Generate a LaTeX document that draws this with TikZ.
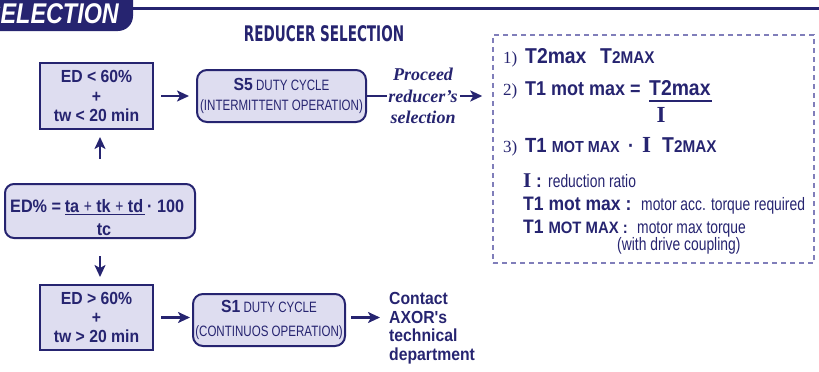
\documentclass[tikz,border=0pt]{standalone}
\usepackage{fontspec}
\usetikzlibrary{arrows.meta}
\newfontfamily\cbf{Liberation Sans}[FakeStretch=0.9]
\newfontfamily\crg{Liberation Sans}[FakeStretch=0.77]
\newfontfamily\chv{DejaVu Sans}[FakeStretch=0.63]
\newfontfamily\hdrf{Liberation Sans}[FakeStretch=0.82]
\newfontfamily\srf{Liberation Serif}
\newcommand\xB[2]{\cbf\bfseries\upshape\fontsize{#1}{#2}\selectfont}
\newcommand\xR[2]{\crg\mdseries\upshape\fontsize{#1}{#2}\selectfont}
\newcommand\xS[2]{\srf\mdseries\upshape\fontsize{#1}{#2}\selectfont}
\newcommand\xSB[2]{\srf\bfseries\upshape\fontsize{#1}{#2}\selectfont}
\definecolor{ink}{RGB}{38,36,112}
\definecolor{fillc}{RGB}{222,221,240}
\definecolor{dashc}{RGB}{128,126,186}
\tikzset{
  sharpbox/.style={draw=ink, fill=fillc, line width=2pt, minimum width=113pt, inner sep=0pt, align=center, text=ink},
  roundbox/.style={draw=ink, fill=fillc, line width=2pt, rounded corners=10pt, inner sep=0pt, align=center, text=ink},
  arr/.style={draw=ink, line width=2.2pt, -{Stealth[length=12pt,width=11pt,inset=3pt]}},
  txt/.style={inner sep=0pt, text=ink},
  bw/.style={txt, anchor=base west},
}
\begin{document}
\begin{tikzpicture}[x=1pt,y=-1pt]
\useasboundingbox (0,0) rectangle (819,372);
% header
\path[fill=ink, rounded corners=15pt] (-40,-40) -- (133,-40) -- (133,31) -- (-40,31) -- cycle;
\node[inner sep=0pt, anchor=base east, text=white, font=\hdrf\bfseries\itshape\fontsize{28.5}{28}\selectfont] (hdrt) at (119,23.5) {SELECTION};
\draw[ink, line width=2.5pt] (130,8.5) -- (819,8.5);
\node[txt, font=\chv\bfseries\fontsize{21.5}{22}\selectfont] (title) at (324,34) {REDUCER SELECTION};

% left flow
\node[sharpbox, minimum height=66pt, font=\xB{17.5}{19.5}] (c1) at (96.5,96) {ED < 60\%\\+\\tw < 20 min};
\node[roundbox, minimum width=169pt, minimum height=52pt, font=\xR{15}{20}] (s5) at (281.5,96) {{\xB{17.5}{20}S5} DUTY CYCLE\\(INTERMITTENT OPERATION)};
\node[txt, align=center, font=\srf\bfseries\itshape\fontsize{18}{21.5}\selectfont, inner xsep=1pt] (proc) at (423,96) {Proceed\\reducer’s\\selection};

\node[roundbox, rounded corners=9pt, minimum width=190pt, minimum height=54pt] (ed) at (100,211) {};
\node[bw, font=\xB{18}{20}] (edl) at (10,212) {ED\% =};
\node[txt, anchor=base, font=\xB{18}{20}] (num) at (104,212) {ta {\xR{18}{20}+} tk {\xR{18}{20}+} td};
\draw[ink, line width=1.3pt] (65,214.5) -- (145,214.5);
\node[txt, anchor=base, font=\xB{18}{20}] (den) at (104,235) {tc};
\node[bw, font=\xB{18}{20}] (hund) at (147,212) {· 100};

\node[sharpbox, minimum height=65pt, font=\xB{17.5}{19}] (c2) at (96.5,317.5) {ED > 60\%\\+\\tw > 20 min};
\node[roundbox, minimum width=152pt, minimum height=52pt, font=\xR{15}{24}] (s1) at (269,320) {{\xB{17.5}{24}S1} DUTY CYCLE\\(CONTINUOS OPERATION)};
\node[txt, anchor=north west, align=left, font=\xB{17.5}{18.7}] (ct) at (389,292) {Contact\\AXOR{\char"27}s\\technical\\department};

% connectors
\draw[arr, shorten <=7pt, shorten >=7pt] (c1) -- (s5);
\draw[ink, line width=2pt] (s5.east) -- (proc.west);
\draw[arr, shorten <=24pt, shorten >=7pt] (ed.north) -- (ed.north |- c1.south);
\draw[arr, shorten <=17pt, shorten >=7pt] (ed.south) -- (ed.south |- c2.north);
\draw[arr, shorten <=7pt, shorten >=2pt] (c2.east) -- (c2.east -| s1.west);
\draw[arr, shorten <=5pt, shorten >=9pt] (s1.east |- c2.east) -- (c2.east -| ct.west);

% selection box
\node[draw=dashc, line width=1.5pt, dash pattern=on 5pt off 4pt, minimum width=321pt, minimum height=228pt, inner sep=0pt] (sel) at (653.5,149) {};
\draw[arr, shorten <=1pt, shorten >=10pt] (proc.east) -- (sel.west |- proc.east);

\node[bw, font=\xS{17}{20}] (n1) at (503,63) {1)};
\node[bw, font=\xB{21.5}{24}] (l1a) at (525,63) {T2max};
\node[bw, font=\xB{21.5}{24}] (l1b) at (600,63) {T{\xB{17}{24}2MAX}};

\node[bw, font=\xS{17}{20}] (n2) at (503,95) {2)};
\node[bw, font=\xB{20}{24}] (l2a) at (525,95) {T1 mot max =};
\node[bw, font=\xB{21.5}{24}] (l2b) at (649,95) {T2max};
\draw[ink, line width=1.3pt] (649,101) -- (712,101);
\node[txt, anchor=base, font=\xSB{23}{24}] (l2c) at (661,122) {I};

\node[bw, font=\xS{17}{20}] (n3) at (503,152) {3)};
\node[bw, font=\xB{20.5}{24}] (l3a) at (525,152) {T1 {\xB{16}{24}MOT MAX}};
\node[bw, font=\xB{20}{24}] (l3b) at (628,152) {·};
\node[bw, font=\xSB{23}{24}] (l3c) at (642,152) {I};
\node[bw, font=\xB{21.5}{24}] (l3d) at (662,152) {T{\xB{17}{24}2MAX}};

\node[bw, font=\xB{19}{22}] (g1) at (523,187) {{\xSB{21}{22}I} :};
\node[bw, font=\xR{18}{20}] (g1d) at (548,187) {reduction ratio};
\node[bw, font=\xB{19.5}{22}] (g2) at (523,210) {T1 mot max :};
\node[bw, font=\xR{18}{20}] (g2d) at (641,210) {motor acc. torque required};
\node[bw, font=\xB{19.5}{22}] (g3) at (523,233) {T1 {\xB{16.5}{22}MOT MAX :}};
\node[bw, font=\xR{18}{20}] (g3d) at (637,233) {motor max torque};
\node[bw, font=\xR{18}{20}] (g4) at (617,250) {(with drive coupling)};
\end{tikzpicture}
\end{document}
